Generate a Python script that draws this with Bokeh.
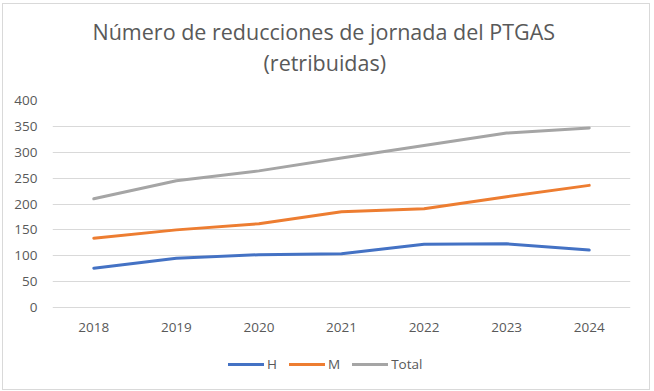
from bokeh.plotting import figure
from bokeh.models import Legend, LegendItem, FactorRange, Range1d, FixedTicker, Title
from bokeh.embed import file_html
from bokeh.resources import INLINE

years = ["2018", "2019", "2020", "2021", "2022", "2023", "2024"]
h_vals = [76, 95, 102, 104, 122, 123, 111]
m_vals = [134, 150, 162, 185, 191, 214, 236]
total_vals = [210, 245, 264, 289, 313, 337, 347]
y_ticks = [0, 50, 100, 150, 200, 250, 300, 350, 400]
title_line1 = "Número de reducciones de jornada del PTGAS"
title_line2 = "(retribuidas)"

FONT = "Open Sans"
TXT = "#595959"

# layout (pixels)
FRAME_W = 578
FRAME_H = 288          # frame extends below the zero line to hold the legend
AXIS_PX = 207          # pixel height of the 0..400 axis span
Y_MAX = 400
y_min = -(FRAME_H - AXIS_PX) * Y_MAX / AXIS_PX

p = figure(x_range=FactorRange(*years), y_range=Range1d(y_min, Y_MAX), title=None,
           frame_width=FRAME_W, frame_height=FRAME_H, output_backend="svg", toolbar_location=None,
           min_border_left=49, min_border_right=19, min_border_top=96, min_border_bottom=1)
p.styles = {"margin-left": "3px", "margin-top": "4px", "outline": "1px solid #d9d9d9"}
p.outline_line_color = None
p.background_fill_color = "white"
p.border_fill_color = "white"

p.xgrid.grid_line_color = None
p.ygrid.grid_line_color = "#d9d9d9"
p.ygrid.grid_line_width = 1
p.yaxis.ticker = FixedTicker(ticks=y_ticks)
p.yaxis.axis_line_color = None
p.xaxis.axis_line_color = None
p.xaxis.fixed_location = 0
for ax in (p.xaxis, p.yaxis):
    ax.major_tick_line_color = None
    ax.minor_tick_line_color = None
    ax.major_tick_out = 0
    ax.major_tick_in = 0
    ax.major_label_text_font = FONT
    ax.major_label_text_font_size = "13.5px"
    ax.major_label_text_color = TXT
p.yaxis.major_label_standoff = 15
p.xaxis.major_label_standoff = 15

r_h = p.line(years, h_vals, line_width=3, color="#4472C4", line_cap="round", line_join="round")
r_m = p.line(years, m_vals, line_width=3, color="#ED7D31", line_cap="round", line_join="round")
r_t = p.line(years, total_vals, line_width=3, color="#A5A5A5", line_cap="round", line_join="round")

legend = Legend(items=[LegendItem(label="H", renderers=[r_h]),
                       LegendItem(label="M", renderers=[r_m]),
                       LegendItem(label="Total", renderers=[r_t])],
                orientation="horizontal", location=(176, 15),
                glyph_width=36, glyph_height=18, label_width=1, label_height=18,
                label_standoff=3, spacing=12,
                padding=0, margin=0, border_line_color=None, background_fill_alpha=0,
                label_text_font=FONT, label_text_font_size="13.5px", label_text_color=TXT)
p.add_layout(legend, "center")

# spacer between frame and title lines
p.add_layout(Title(text=" ", text_font_size="1px", standoff=21), "above")
p.add_layout(Title(text=title_line2, align="left", offset=211, standoff=0,
                   text_font=FONT, text_font_size="21.5px", text_font_style="normal",
                   text_color=TXT), "above")
p.add_layout(Title(text=title_line1, align="left", offset=40, standoff=0,
                   text_font=FONT, text_font_size="21.5px", text_font_style="normal",
                   text_color=TXT), "above")

open("out.html", "w").write(file_html(p, INLINE))
